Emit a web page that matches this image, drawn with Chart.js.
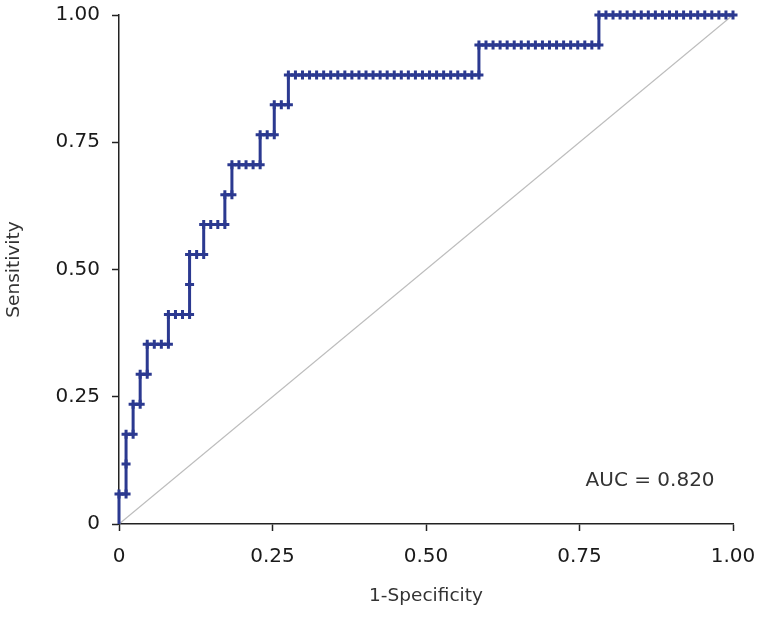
<!DOCTYPE html>
<html>
<head>
<meta charset="utf-8">
<script src="https://cdn.jsdelivr.net/npm/chart.js@4/dist/chart.umd.min.js"></script>
<style>
  html, body { margin: 0; padding: 0; background: #fff; }
</style>
</head>
<body>
<canvas id="rocChart" width="758" height="617"></canvas>
<script>
// ROC points, as counts: 87 controls (x), 17 cases (y)
const nNeg = 87;
const nPos = 17;
const falsePos = [
  0, 0, 1, 1, 1, 2, 2, 3, 3, 4,
  4, 5, 6, 7, 7, 8, 9, 10, 10, 10,
  11, 12, 12, 13, 14, 15, 15, 16, 16, 17,
  18, 19, 20, 20, 21, 22, 22, 23, 24, 24,
  25, 26, 27, 28, 29, 30, 31, 32, 33, 34, 35, 36, 37, 38,
  39, 40, 41, 42, 43, 44, 45, 46, 47, 48, 49, 50, 51,
  51, 52, 53, 54, 55, 56, 57, 58, 59, 60, 61, 62, 63, 64, 65, 66, 67, 68,
  68, 69, 70, 71, 72, 73, 74, 75, 76, 77, 78, 79, 80, 81, 82, 83, 84, 85, 86, 87
];
const truePos = [
  0, 1, 1, 2, 3, 3, 4, 4, 5, 5,
  6, 6, 6, 6, 7, 7, 7, 7, 8, 9,
  9, 9, 10, 10, 10, 10, 11, 11, 12, 12,
  12, 12, 12, 13, 13, 13, 14, 14, 14, 15,
  15, 15, 15, 15, 15, 15, 15, 15, 15, 15, 15, 15, 15, 15,
  15, 15, 15, 15, 15, 15, 15, 15, 15, 15, 15, 15, 15,
  16, 16, 16, 16, 16, 16, 16, 16, 16, 16, 16, 16, 16, 16, 16, 16, 16, 16,
  17, 17, 17, 17, 17, 17, 17, 17, 17, 17, 17, 17, 17, 17, 17, 17, 17, 17, 17, 17
];
const refX = [0, 1];
const refY = [0, 1];
const tickValues = [0, 0.25, 0.5, 0.75, 1];
const tickLabels = ['0', '0.25', '0.50', '0.75', '1.00'];
const aucLabel = 'AUC = 0.820';

const navy = '#2b3990';
const tickFont = { family: 'DejaVu Sans', size: 20 };
const titleFont = { family: 'DejaVu Sans', size: 18.5 };

const rocPoints = falsePos.map((fp, i) => ({ x: fp / nNeg, y: truePos[i] / nPos }));
const refPoints = refX.map((x, i) => ({ x: x, y: refY[i] }));

const aucText = {
  id: 'aucText',
  afterDatasetsDraw(chart) {
    const { ctx, scales } = chart;
    ctx.save();
    ctx.font = '20px "DejaVu Sans"';
    ctx.fillStyle = '#333';
    ctx.textAlign = 'right';
    ctx.textBaseline = 'middle';
    ctx.fillText(aucLabel, scales.x.getPixelForValue(0.97), scales.y.getPixelForValue(0.084));
    ctx.restore();
  }
};

function axisOpts(title, tickPad, titlePad) {
  return {
    type: 'linear',
    min: 0,
    max: 1,
    afterBuildTicks: s => { s.ticks = tickValues.map(v => ({ value: v })); },
    ticks: {
      callback: (v, i) => tickLabels[i],
      color: '#1a1a1a',
      font: tickFont,
      padding: tickPad
    },
    grid: {
      drawOnChartArea: false,
      drawTicks: true,
      tickLength: 7,
      tickColor: '#222',
      tickWidth: 1.5
    },
    border: { color: '#222', width: 1.5 },
    title: {
      display: true,
      text: title,
      color: '#333',
      font: titleFont,
      padding: titlePad
    }
  };
}

// fixed axis boxes so the plot area lands where the original one is
const xAxis = axisOpts('1-Specificity', 14, { top: 0, bottom: 10 });
xAxis.afterFit = s => {
  s.height = 93;
  s.paddingLeft = 0;
  s.paddingRight = 0;
};
const yAxis = axisOpts('Sensitivity', 12, { top: 3, bottom: 0 });
yAxis.afterFit = s => {
  s.width = 119;
  s.paddingTop = 0;
  s.paddingBottom = 0;
};

new Chart(document.getElementById('rocChart'), {
  type: 'scatter',
  data: {
    datasets: [
      {
        label: 'ROC',
        data: rocPoints,
        showLine: true,
        borderColor: navy,
        borderWidth: 3,
        pointStyle: 'cross',
        pointRadius: c => (c.dataIndex === 0 ? 0 : 4.5),
        pointBorderWidth: 3,
        pointBorderColor: navy,
        pointBackgroundColor: navy,
        clip: false
      },
      {
        label: 'Reference',
        data: refPoints,
        showLine: true,
        borderColor: '#bdbdbd',
        borderWidth: 1.3,
        pointRadius: 0
      }
    ]
  },
  options: {
    responsive: false,
    animation: false,
    layout: { padding: { top: 15, right: 25, left: 0, bottom: 0 } },
    plugins: {
      legend: { display: false },
      tooltip: { enabled: false }
    },
    scales: { x: xAxis, y: yAxis }
  },
  plugins: [aucText]
});
</script>
</body>
</html>
